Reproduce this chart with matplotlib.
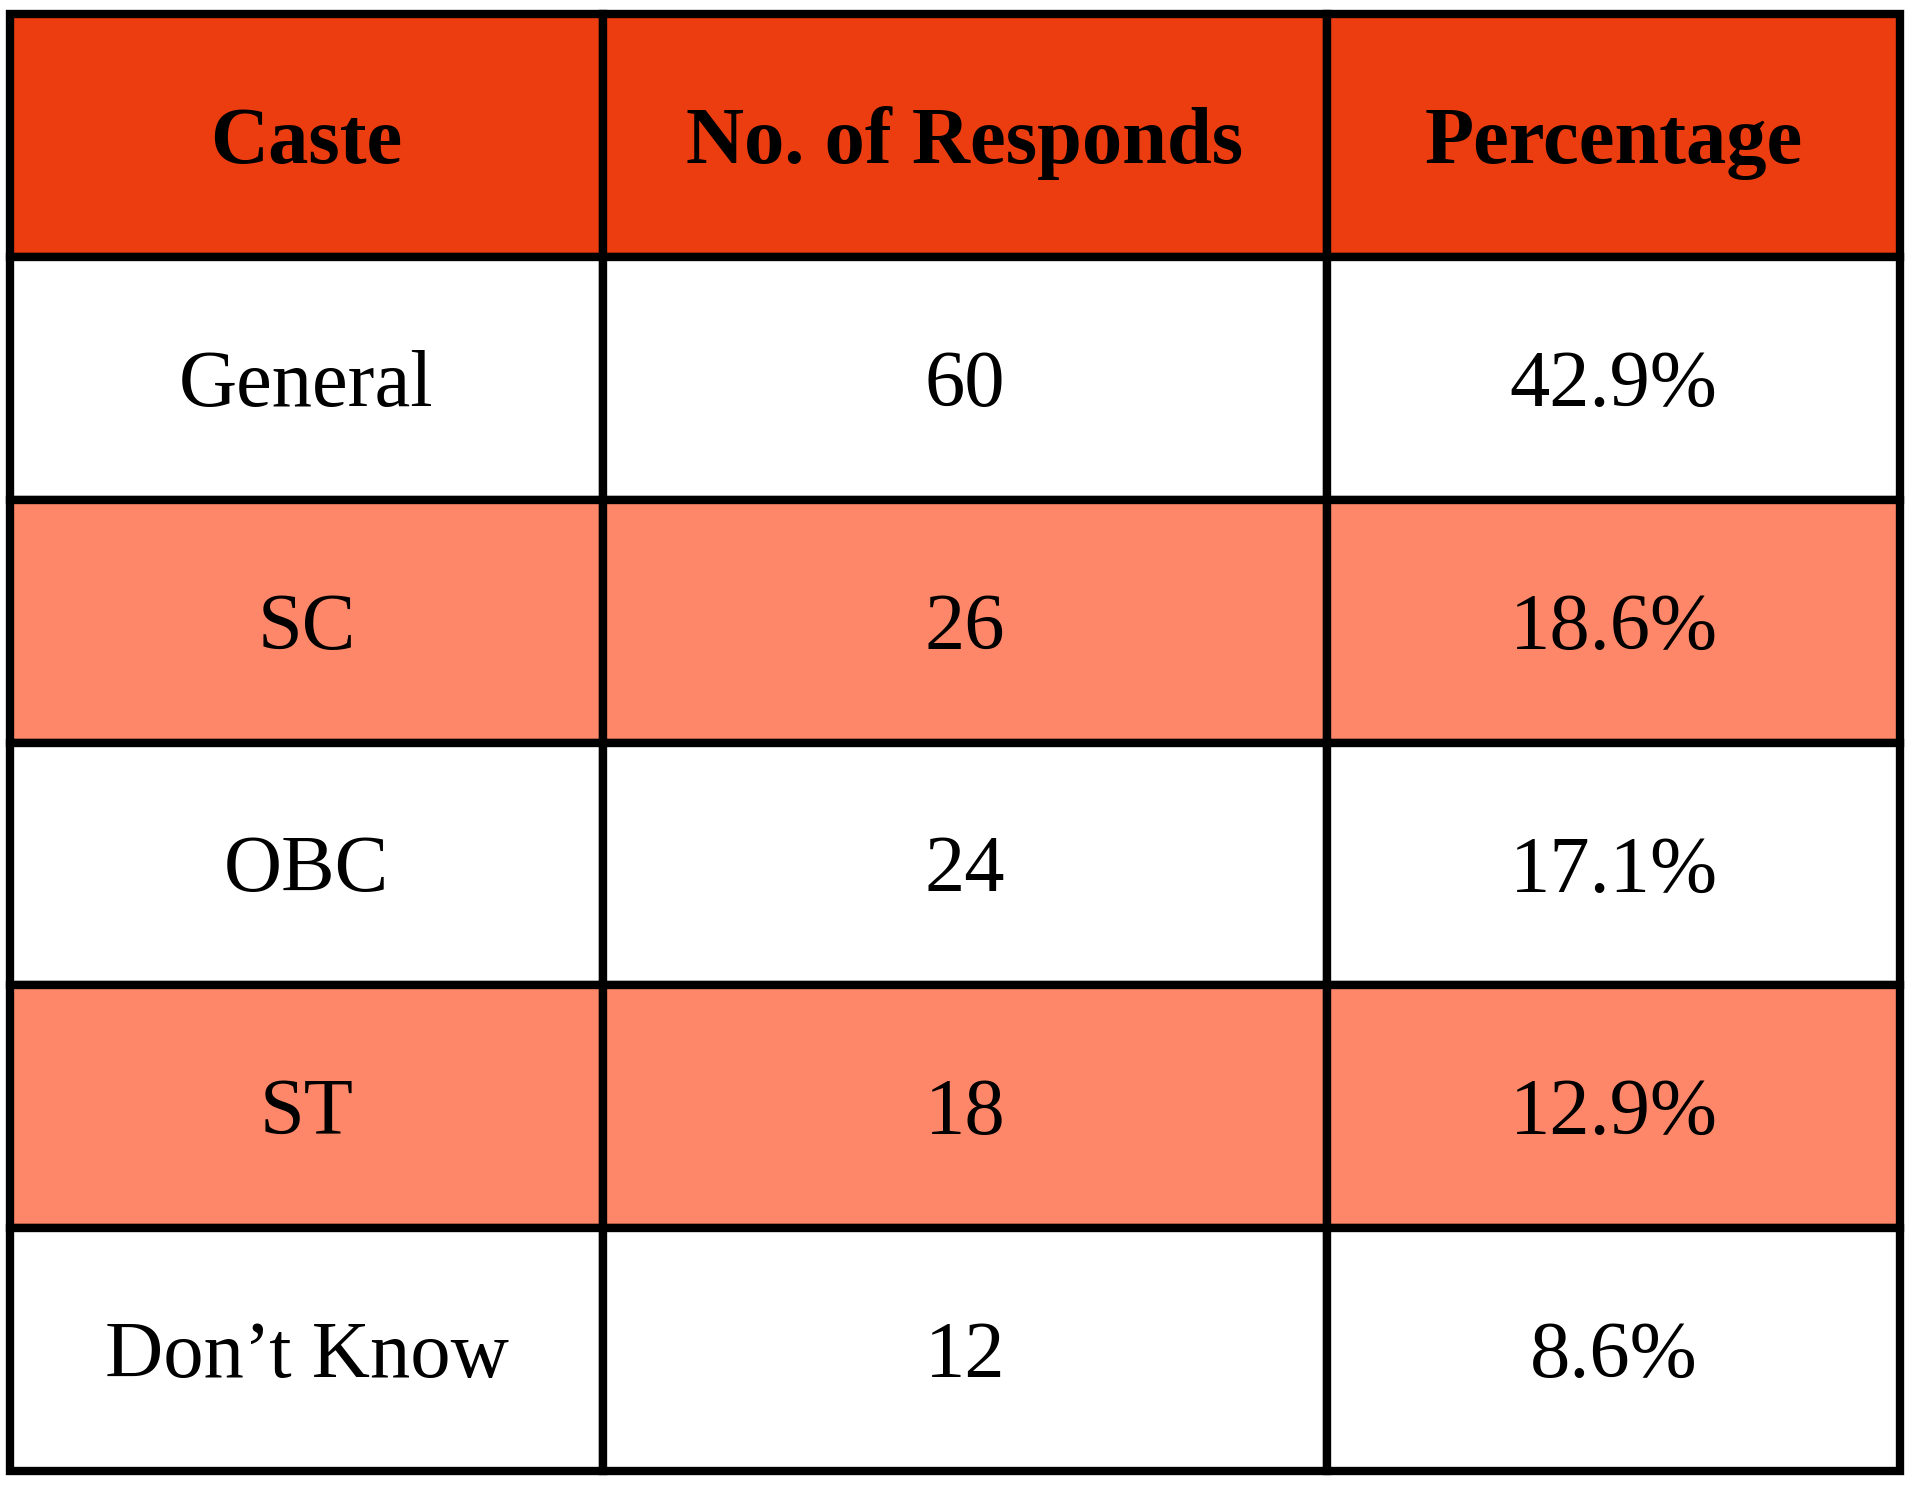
import matplotlib.pyplot as plt
from matplotlib.patches import Rectangle

# table content
headers = ['Caste', 'No. of Responds', 'Percentage']
castes = ['General', 'SC', 'OBC', 'ST', 'Don\u2019t Know']
responds = [60, 26, 24, 18, 12]
percent = [42.9, 18.6, 17.1, 12.9, 8.6]

header_color = '#EB3D0F'
band_color = '#FF8769'
font = ['Liberation Serif', 'DejaVu Serif']

# layout in pixels
W, H = 1920, 1504
left, right, top, bottom = 10, 1900, 14, 1471
col_edges = [left, 603, 1327, right]
n_rows = len(castes) + 1
row_h = (bottom - top) / n_rows

fig = plt.figure(figsize=(W / 100, H / 100), dpi=100)
ax = fig.add_axes([0, 0, 1, 1])
ax.set_xlim(0, W)
ax.set_ylim(H, 0)
ax.axis('off')

rows = [headers] + [[c, str(n), '{:.1f}%'.format(p)]
                    for c, n, p in zip(castes, responds, percent)]

for r, row in enumerate(rows):
    y0 = top + r * row_h
    if r == 0:
        fc = header_color
    elif r % 2 == 0:
        fc = band_color
    else:
        fc = 'white'
    for c, txt in enumerate(row):
        x0 = col_edges[c]
        x1 = col_edges[c + 1]
        ax.add_patch(Rectangle((x0, y0), x1 - x0, row_h, facecolor=fc,
                               edgecolor='black', linewidth=6, zorder=1))
        ax.text((x0 + x1) / 2, y0 + row_h / 2 + 8, txt, ha='center', va='center',
                fontsize=58, family=font,
                fontweight='bold' if r == 0 else 'normal', color='black', zorder=2)

fig.savefig('out.png', dpi=100, facecolor='white')
